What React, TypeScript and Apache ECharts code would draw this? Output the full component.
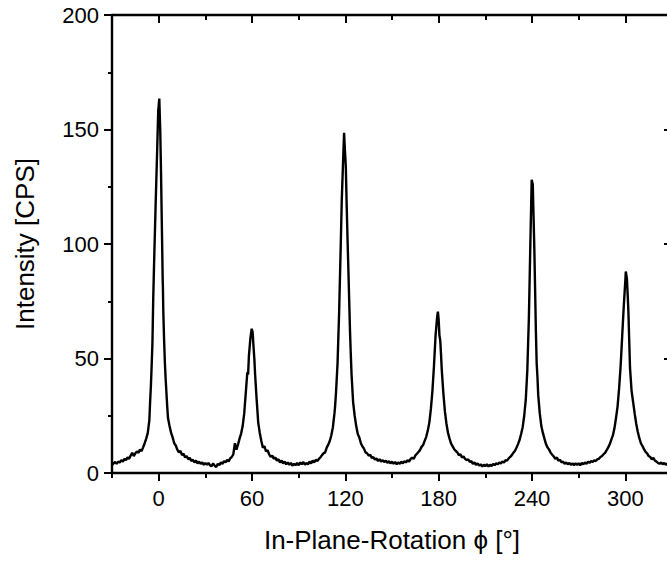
import React, { useEffect, useRef } from "react";
import * as echarts from "echarts";

// In-plane rotation phi [deg] vs intensity [CPS], grouped by peak window
const peak0: number[][] = [
  [-30, 3.5], [-29, 4.2], [-28, 4.8], [-27, 4.0], [-26, 5.0], [-25, 4.6], [-24, 5.6], [-23, 5.0],
  [-22, 6.2], [-21, 5.6], [-20, 6.8], [-19, 6.2], [-18, 7.6], [-17, 8.8], [-16, 7.4], [-15, 8.6],
  [-14, 9.4], [-13, 8.8], [-12, 10.2], [-11, 9.6], [-10, 11.2], [-9, 13.0], [-8, 15.0], [-7, 17.5],
  [-6, 23], [-5.5, 31], [-5, 38], [-4.5, 47], [-4, 57], [-3.5, 76], [-3, 90], [-2, 116], [-1, 140],
  [-0.3, 158], [0.4, 163.5], [1, 150], [1.5, 132], [2, 110], [2.6, 84], [2.7, 82], [3, 70], [3.5, 58],
  [4, 48], [4.5, 41], [5, 35], [5.5, 29], [6, 24], [7, 20.5], [8, 17.5], [9, 15.5], [10, 13.0],
  [11, 12.0], [12, 10.2], [13, 9.0], [14, 9.6], [15, 7.8], [16, 8.4], [17, 6.8], [18, 7.4], [19, 6.0],
  [20, 6.6], [21, 5.2], [22, 5.8], [23, 4.6], [24, 5.4], [25, 4.2], [26, 5.0], [27, 4.0], [28, 4.6],
  [29, 3.6], [30, 4.4],
];
const peak60: number[][] = [
  [31, 3.6], [32, 4.4], [33, 3.4], [34, 3.0], [35, 4.2], [36, 3.2], [37, 2.6], [38, 4.0], [39, 3.4],
  [40, 4.6], [41, 4.0], [42, 5.2], [43, 4.6], [44, 5.8], [45, 5.0], [46, 6.4], [47, 7.0], [48, 8.2],
  [49, 13.0], [50, 10.2], [51, 12.4], [52, 15.0], [53, 17.2], [54, 20.5], [55, 26], [56, 35], [57, 44],
  [57.5, 43], [58, 51], [59, 59], [59.8, 63], [60.4, 61.5], [61, 55], [61.5, 50], [62, 43], [63, 32],
  [64, 22], [65, 17.5], [66, 14.0], [67, 11.0], [68, 11.8], [69, 9.4], [70, 10.0], [71, 8.2], [72, 7.0],
  [73, 7.6], [74, 6.2], [75, 6.8], [76, 5.4], [77, 6.0], [78, 4.6], [79, 5.4], [80, 4.2], [81, 5.0],
  [82, 3.8], [83, 4.6], [84, 3.6], [85, 4.4], [86, 3.2], [87, 4.0], [88, 3.4], [89, 4.4],
];
const peak120: number[][] = [
  [90, 3.4], [91, 4.6], [92, 3.8], [93, 4.8], [94, 3.6], [95, 4.4], [96, 3.8], [97, 5.0], [98, 4.2],
  [99, 5.4], [100, 4.6], [101, 5.8], [102, 5.2], [103, 6.2], [104, 6.8], [105, 7.8], [106, 8.6], [107, 9.0],
  [108, 11.0], [109, 12.4], [110, 14.0], [111, 16.5], [112, 20], [113, 26], [113.4, 29], [114, 35],
  [115, 48], [116, 70], [117, 98], [117.7, 119], [118.5, 135], [119.2, 148.6], [119.8, 140], [120.3, 134],
  [120.9, 116], [121.5, 100], [122, 88], [122.5, 75], [123, 62], [123.5, 52], [124, 43], [125, 31],
  [126, 25], [127, 20.5], [128, 17.0], [129, 15.5], [130, 13.0], [131, 11.6], [132, 10.6], [133, 9.0],
  [134, 8.6], [135, 7.6], [136, 8.0], [137, 6.6], [138, 7.0], [139, 5.8], [140, 6.4], [141, 5.2],
  [142, 6.0], [143, 5.0], [144, 5.6], [145, 4.8], [146, 5.4], [147, 4.4], [148, 5.2], [149, 4.2],
];
const peak180: number[][] = [
  [150, 5.0], [151, 4.0], [152, 4.8], [153, 3.8], [154, 4.6], [155, 4.0], [156, 5.0], [157, 4.2],
  [158, 5.2], [159, 4.6], [160, 5.6], [161, 5.0], [162, 6.2], [163, 6.6], [164, 6.2], [165, 7.6],
  [166, 8.4], [167, 9.2], [168, 10.0], [169, 11.4], [170, 12.2], [171, 14.0], [172, 15.8], [173, 18.5],
  [174, 22], [175, 28], [176, 36], [177, 47], [178, 60], [179, 68], [179.5, 70.5], [180, 67], [180.5, 60],
  [181, 58], [181.5, 52], [182, 45], [183, 35], [184, 27], [185, 21.5], [186, 17.5], [187, 15.0],
  [188, 12.8], [189, 11.6], [190, 10.4], [191, 9.6], [192, 9.0], [193, 7.8], [194, 8.2], [195, 6.8],
  [196, 7.2], [197, 6.2], [198, 5.6], [199, 6.0], [200, 4.8], [201, 5.2], [202, 4.0], [203, 4.6],
  [204, 3.6], [205, 4.2], [206, 3.2], [207, 3.8], [208, 2.8], [209, 3.6],
];
const peak240: number[][] = [
  [210, 3.0], [211, 3.8], [212, 2.8], [213, 3.6], [214, 3.0], [215, 4.0], [216, 3.4], [217, 4.2],
  [218, 3.8], [219, 4.6], [220, 4.2], [221, 5.0], [222, 4.6], [223, 5.6], [224, 5.4], [225, 6.4],
  [226, 7.0], [227, 7.8], [228, 8.8], [229, 9.6], [230, 11.0], [231, 12.6], [232, 14.4], [233, 17.0],
  [234, 20], [235, 25], [236, 32], [237, 45], [238, 68], [239, 102], [239.8, 128], [240.5, 126],
  [241, 112], [241.5, 98], [242, 80], [242.5, 62], [243, 48], [243.5, 42], [244, 34], [245, 26],
  [246, 20.5], [247, 17.5], [248, 15.0], [249, 12.6], [250, 11.2], [251, 10.2], [252, 8.8], [253, 8.0],
  [254, 7.2], [255, 6.2], [256, 6.8], [257, 5.4], [258, 5.8], [259, 4.6], [260, 5.0], [261, 4.0],
  [262, 4.6], [263, 3.8], [264, 4.4], [265, 3.6], [266, 4.2], [267, 3.4], [268, 4.2], [269, 3.6],
];
const peak300: number[][] = [
  [270, 4.2], [271, 3.4], [272, 4.4], [273, 3.8], [274, 4.6], [275, 4.0], [276, 5.0], [277, 4.4],
  [278, 5.2], [279, 4.8], [280, 5.6], [281, 5.2], [282, 6.0], [283, 6.2], [284, 7.0], [285, 7.4],
  [286, 8.2], [287, 8.8], [288, 10.0], [289, 11.2], [290, 12.6], [291, 14.6], [292, 16.4], [293, 19.5],
  [294, 24], [295, 29], [296, 37], [297, 47], [298, 60], [299, 73], [300, 84], [300.3, 88], [301, 85],
  [301.5, 78], [302, 70], [302.5, 58], [303, 46], [303.5, 41], [304, 36], [305, 31], [306, 26],
  [307, 21.5], [308, 18.0], [309, 15.2], [310, 13.0], [311, 11.8], [312, 10.4], [313, 9.2], [314, 8.6],
  [315, 7.4], [316, 7.0], [317, 6.0], [318, 6.6], [319, 5.4], [320, 5.0], [321, 4.4], [322, 4.0],
  [323, 4.6], [324, 3.8], [325, 4.4], [326, 3.6], [327, 4.2], [328, 3.8], [329, 4.4], [330, 4.0],
];

const xMajorTicks = [0, 60, 120, 180, 240, 300];
const xMinorTicks = [-30, 30, 90, 150, 210, 270, 330];
const xRange = [-30, 330];
const yRange = [0, 200];

const xTitle = "In-Plane-Rotation \u03d5 [\u00b0]";
const yTitle = "Intensity [CPS]";

const FONT = "'Liberation Sans', Arial, sans-serif";

export default function App() {
  const ref = useRef<HTMLDivElement>(null);
  useEffect(() => {
    if (!ref.current) return;
    const chart = echarts.init(ref.current, null, { renderer: "svg" });
    const black = "#000";
    const line = { show: true, onZero: false, lineStyle: { color: black, width: 2.4 } };
    const baseX = {
      type: "value",
      gridIndex: 0,
      min: xRange[0],
      max: xRange[1],
      splitLine: { show: false },
    };
    const data = [...peak0, ...peak60, ...peak120, ...peak180, ...peak240, ...peak300];
    chart.setOption({
      animation: false,
      backgroundColor: "#fff",
      grid: { left: 112, right: -5, top: 15, bottom: 90, containLabel: false, outerBoundsMode: "none" },
      xAxis: [
        {
          ...baseX,
          position: "bottom",
          axisLine: line,
          axisTick: { show: true, customValues: xMajorTicks, length: 8, lineStyle: { color: black, width: 2 } },
          axisLabel: {
            show: true,
            customValues: xMajorTicks,
            color: black,
            fontSize: 22,
            fontFamily: FONT,
            margin: 14,
          },
          name: xTitle,
          nameLocation: "middle",
          nameGap: 54,
          nameTextStyle: { color: black, fontSize: 26, fontFamily: FONT },
        },
        {
          ...baseX,
          position: "bottom",
          axisLine: { show: false, onZero: false },
          axisTick: { show: true, customValues: xMinorTicks, length: 5, lineStyle: { color: black, width: 2 } },
          axisLabel: { show: false },
        },
        {
          ...baseX,
          position: "top",
          axisLine: line,
          axisTick: { show: true, inside: true, customValues: xMajorTicks, length: 8, lineStyle: { color: black, width: 2 } },
          axisLabel: { show: false },
        },
        {
          ...baseX,
          position: "top",
          axisLine: { show: false, onZero: false },
          axisTick: { show: true, inside: true, customValues: xMinorTicks, length: 5, lineStyle: { color: black, width: 2 } },
          axisLabel: { show: false },
        },
      ],
      yAxis: [
        {
          type: "value",
          position: "left",
          min: yRange[0],
          max: yRange[1],
          interval: 50,
          splitLine: { show: false },
          axisLine: line,
          axisTick: { show: true, length: 8, lineStyle: { color: black, width: 2 } },
          minorTick: { show: true, splitNumber: 2, length: 4, lineStyle: { color: black, width: 2 } },
          axisLabel: { color: black, fontSize: 22, fontFamily: FONT, margin: 13 },
          name: yTitle,
          nameLocation: "middle",
          nameGap: 74,
          nameTextStyle: { color: black, fontSize: 26, fontFamily: FONT },
        },
        {
          type: "value",
          position: "right",
          min: yRange[0],
          max: yRange[1],
          interval: 50,
          splitLine: { show: false },
          axisLine: line,
          axisTick: { show: true, inside: true, length: 8, lineStyle: { color: black, width: 2 } },
          minorTick: { show: true, splitNumber: 2, length: 5, lineStyle: { color: black, width: 2 } },
          axisLabel: { show: false },
        },
      ],
      series: [
        {
          type: "line",
          xAxisIndex: 0,
          yAxisIndex: 0,
          data,
          showSymbol: false,
          symbol: "none",
          clip: true,
          lineStyle: { color: black, width: 2.4 },
        },
      ],
    });
    return () => chart.dispose();
  }, []);
  return (
    <div
      ref={ref}
      style={{ position: "fixed", left: 0, top: 0, width: 667, height: 563, background: "#fff" }}
    />
  );
}
